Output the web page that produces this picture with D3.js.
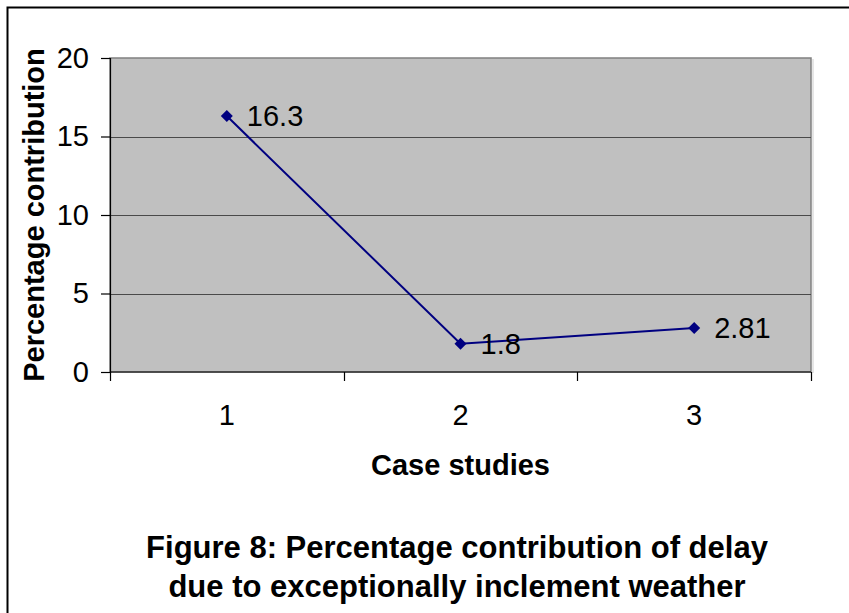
<!DOCTYPE html>
<html>
<head>
<meta charset="utf-8">
<script src="https://cdn.jsdelivr.net/npm/d3@7"></script>
<style>
  html, body { margin: 0; padding: 0; background: #fff; }
  svg { display: block; font-family: "Liberation Sans", Arial, sans-serif; }
</style>
</head>
<body>
<svg id="chart" width="849" height="613"></svg>
<script>
// Case studies and their percentage contribution of delay
const categories = ["1", "2", "3"];
const values = [16.3, 1.8, 2.81];
const valueLabels = ["16.3", "1.8", "2.81"];
const yTicks = [0, 5, 10, 15, 20];

const svg = d3.select("#chart");
const W = 849, H = 613;

// outer frame
svg.append("rect")
  .attr("x", 7.5).attr("y", 7.5)
  .attr("width", W + 10).attr("height", H + 10)
  .attr("fill", "none").attr("stroke", "#000").attr("stroke-width", 2);

const plot = { left: 110, top: 58, right: 811, bottom: 372 };

const x = d3.scaleBand().domain(categories).range([plot.left, plot.right]);
const y = d3.scaleLinear().domain([0, 20]).range([plot.bottom, plot.top]);

// plot area background with a light drop edge on the right
svg.append("rect")
  .attr("x", plot.right + 1).attr("y", plot.top + 1)
  .attr("width", 2).attr("height", plot.bottom - plot.top)
  .attr("fill", "#e6e6e6");
svg.append("rect")
  .attr("x", plot.left).attr("y", plot.top)
  .attr("width", plot.right - plot.left).attr("height", plot.bottom - plot.top)
  .attr("fill", "#c0c0c0").attr("stroke", "#808080").attr("stroke-width", 1.5);

// horizontal gridlines
svg.append("g").selectAll("line")
  .data(yTicks.filter(d => d > 0 && d < 20))
  .join("line")
  .attr("x1", plot.left).attr("x2", plot.right)
  .attr("y1", d => Math.round(y(d)) + 0.5).attr("y2", d => Math.round(y(d)) + 0.5)
  .attr("stroke", "#4a4a4a").attr("stroke-width", 1.2);

// y axis
const yAxis = svg.append("g")
  .attr("transform", `translate(${plot.left},0)`)
  .call(d3.axisLeft(y).tickValues(yTicks).tickSize(9).tickPadding(12).tickFormat(d3.format("d")));
yAxis.select(".domain").attr("stroke", "#000").attr("stroke-width", 1.2);
yAxis.selectAll(".tick line").attr("stroke", "#000").attr("stroke-width", 1.2);
yAxis.selectAll(".tick text")
  .attr("font-size", 29).attr("fill", "#000")
  .attr("font-family", "Liberation Sans, Arial, sans-serif");

// x axis: ticks sit between categories
const xAxisG = svg.append("g").attr("transform", `translate(0,${plot.bottom})`);
xAxisG.append("line")
  .attr("x1", plot.left).attr("x2", plot.right)
  .attr("y1", 0).attr("y2", 0)
  .attr("stroke", "#000").attr("stroke-width", 1.2);
const boundaries = categories.map(c => x(c)).concat([x(categories[categories.length - 1]) + x.bandwidth()]);
xAxisG.selectAll("line.tk")
  .data(boundaries)
  .join("line").attr("class", "tk")
  .attr("x1", d => Math.round(d) + 0.5).attr("x2", d => Math.round(d) + 0.5)
  .attr("y1", 0).attr("y2", 9)
  .attr("stroke", "#000").attr("stroke-width", 1.2);
xAxisG.selectAll("text")
  .data(categories)
  .join("text")
  .attr("x", d => x(d) + x.bandwidth() / 2)
  .attr("y", 53)
  .attr("text-anchor", "middle")
  .attr("font-size", 29).attr("fill", "#000")
  .text(d => d);

// data line
const cx = (d, i) => x(categories[i]) + x.bandwidth() / 2;
const line = d3.line().x((d, i) => cx(d, i)).y(d => y(d));
svg.append("path")
  .datum(values)
  .attr("d", line)
  .attr("fill", "none").attr("stroke", "#000080").attr("stroke-width", 2);

// diamond markers
svg.append("g").selectAll("path")
  .data(values)
  .join("path")
  .attr("transform", (d, i) => `translate(${cx(d, i)},${y(d)}) rotate(45)`)
  .attr("d", d3.symbol().type(d3.symbolSquare).size(72))
  .attr("fill", "#000080");

// value labels
svg.append("g").selectAll("text")
  .data(values)
  .join("text")
  .attr("x", (d, i) => cx(d, i) + 20)
  .attr("y", d => y(d) + 10)
  .attr("font-size", 29).attr("fill", "#000")
  .text((d, i) => valueLabels[i]);

// axis titles
svg.append("text")
  .attr("transform", `translate(44,${(plot.top + plot.bottom) / 2}) rotate(-90)`)
  .attr("text-anchor", "middle")
  .attr("font-size", 29).attr("font-weight", "bold").attr("fill", "#000")
  .text("Percentage contribution");

svg.append("text")
  .attr("x", (plot.left + plot.right) / 2).attr("y", 475)
  .attr("text-anchor", "middle")
  .attr("font-size", 29).attr("font-weight", "bold").attr("fill", "#000")
  .text("Case studies");

// figure caption
const caption = ["Figure 8: Percentage contribution of delay", "due to exceptionally inclement weather"];
svg.append("g").selectAll("text")
  .data(caption)
  .join("text")
  .attr("x", 457).attr("y", (d, i) => 558 + i * 39)
  .attr("text-anchor", "middle")
  .attr("font-size", 31).attr("font-weight", "bold").attr("fill", "#000")
  .text(d => d);
</script>
</body>
</html>
